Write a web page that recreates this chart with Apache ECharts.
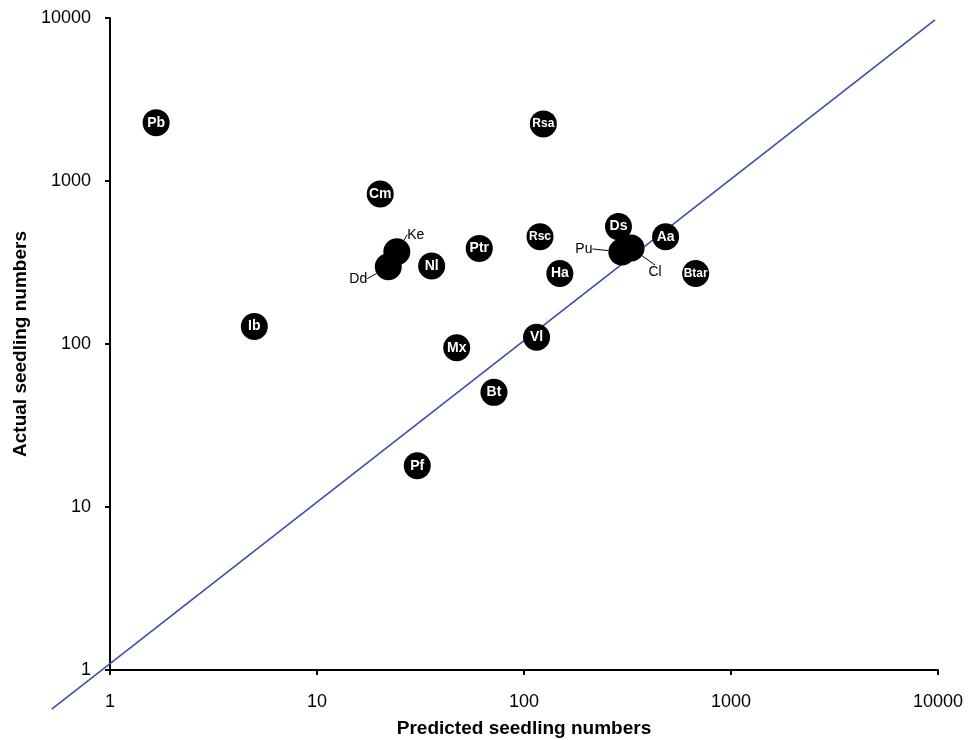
<!DOCTYPE html>
<html>
<head>
<meta charset="utf-8">
<script src="https://cdn.jsdelivr.net/npm/echarts@6/dist/echarts.min.js"></script>
<style>
  html, body { margin: 0; padding: 0; background: #fff; }
  #chart { width: 976px; height: 740px; }
</style>
</head>
<body>
<div id="chart"></div>
<script>
// Species codes with predicted vs. actual seedling numbers
var species   = ['Pb', 'Rsa', 'Cm', 'Ke', 'Dd', 'Nl', 'Ptr', 'Rsc', 'Ha', 'Ds', 'Aa', 'Pu', 'Cl', 'Btar', 'Ib', 'Mx', 'Vl', 'Bt', 'Pf'];
var predicted = [1.67, 124, 20.2, 24.3, 22.1, 35.8, 60.8, 119.5, 149, 286, 483, 297, 329, 675, 4.98, 47.3, 115, 71.6, 30.5];
var actual    = [2280, 2240, 832, 368, 298, 301, 386, 455, 271, 525, 455, 367, 388, 271, 128, 94.9, 110, 50.5, 17.9];

// 1:1 reference line (end points in data units; the lower end lies past the axes)
var refLineX = [0.523, 9670];
var refLineY = [0.576, 9730];

// Axis ticks
var axisTicks = [1, 10, 100, 1000, 10000];

// Codes whose labels sit outside the marker, with their offsets (px)
var outsideLabels = {
  'Ke': [19, -17],
  'Dd': [-30, 12],
  'Pu': [-38, -3],
  'Cl': [24, 24]
};
var smallCodes = ['Rsa', 'Rsc', 'Btar'];

var FONT = "'Liberation Sans', Arial, sans-serif";

var points = species.map(function (code, i) {
  var item = { name: code, value: [predicted[i], actual[i]] };
  if (outsideLabels[code]) {
    item.label = { color: '#000', fontSize: 14, fontWeight: 'normal' };
    item.labelLine = { show: true, lineStyle: { color: '#000', width: 1 } };
  } else if (smallCodes.indexOf(code) >= 0) {
    item.label = { fontSize: 12 };
  }
  return item;
});

var chart = echarts.init(document.getElementById('chart'));

var axisCommon = {
  type: 'log',
  logBase: 10,
  min: axisTicks[0],
  max: axisTicks[axisTicks.length - 1],
  splitLine: { show: false },
  minorTick: { show: false },
  axisLine: { show: true, lineStyle: { color: '#000', width: 2 } },
  axisTick: { show: true, inside: false, length: 5, lineStyle: { color: '#000', width: 2 } },
  axisLabel: {
    color: '#000', fontSize: 18, fontFamily: FONT,
    formatter: function (v) { return String(Math.round(v)); }
  },
  nameTextStyle: { color: '#000', fontSize: 19, fontWeight: 'bold', fontFamily: FONT }
};

// Pixel position of a data point on the log-log plane, extended past the axis
// range by continuing the mapping defined by the axis end points.
function logCoord(api, x, y) {
  var first = axisTicks[0];
  var last = axisTicks[axisTicks.length - 1];
  var lo = api.coord([first, first]);
  var hi = api.coord([last, last]);
  var l0 = Math.log10(first);
  var span = Math.log10(last) - l0;
  var fx = (Math.log10(x) - l0) / span;
  var fy = (Math.log10(y) - l0) / span;
  return [lo[0] + fx * (hi[0] - lo[0]), lo[1] + fy * (hi[1] - lo[1])];
}

chart.setOption({
  animation: false,
  backgroundColor: '#fff',
  grid: { left: 110, right: 38, top: 18, bottom: 70, containLabel: false, outerBoundsMode: 'none' },
  xAxis: Object.assign({}, axisCommon, {
    name: 'Predicted seedling numbers',
    nameLocation: 'middle',
    nameGap: 49,
    axisLabel: Object.assign({}, axisCommon.axisLabel, { margin: 23 })
  }),
  yAxis: Object.assign({}, axisCommon, {
    name: 'Actual seedling numbers',
    nameLocation: 'middle',
    nameGap: 76,
    axisLabel: Object.assign({}, axisCommon.axisLabel, { margin: 19 })
  }),
  series: [
    {
      // the reference line; its ends are read from refLineX / refLineY
      type: 'custom',
      clip: false,
      silent: true,
      z: 1,
      data: [[axisTicks[0], axisTicks[0]]],
      renderItem: function (params, api) {
        var a = logCoord(api, refLineX[0], refLineY[0]);
        var b = logCoord(api, refLineX[1], refLineY[1]);
        return {
          type: 'line',
          shape: { x1: a[0], y1: a[1], x2: b[0], y2: b[1] },
          style: { stroke: '#3b4fa6', lineWidth: 1.6, fill: null }
        };
      }
    },
    {
      type: 'scatter',
      symbol: 'circle',
      symbolSize: 27,
      z: 3,
      itemStyle: { color: '#000', opacity: 1 },
      label: {
        show: true,
        position: 'inside',
        formatter: '{b}',
        color: '#fff',
        fontSize: 14,
        fontWeight: 'bold',
        fontFamily: FONT
      },
      labelLayout: function (params) {
        var code = species[params.dataIndex];
        var off = outsideLabels[code];
        if (off) {
          return { dx: off[0], dy: off[1] };
        }
        return {};
      },
      data: points
    }
  ]
});
</script>
</body>
</html>
